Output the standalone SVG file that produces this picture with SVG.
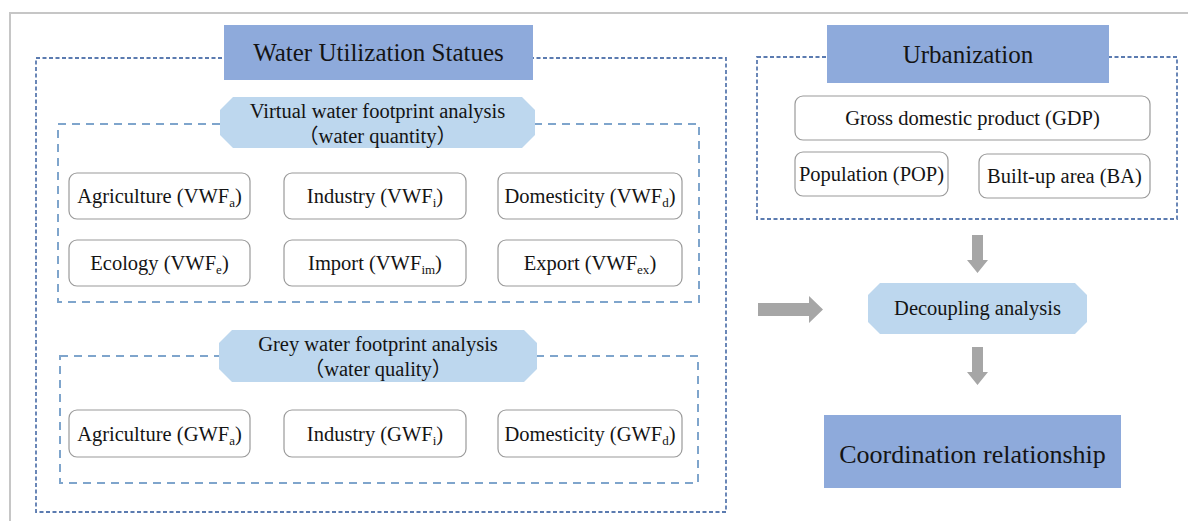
<svg xmlns="http://www.w3.org/2000/svg" width="1188" height="521" viewBox="0 0 1188 521">
<style>
text{fill:#141414;text-anchor:middle}
.t{font-size:20.5px}
.big{font-size:25px}
.huge{font-size:26px}
.title{fill:#8eaadb}
.oct{fill:#bdd7ee}
.box{fill:#fff;stroke:#9a9a9a;stroke-width:1.2}
.outer{fill:none;stroke:#5b7bb0;stroke-width:1.8;stroke-dasharray:4 2.5}
.inner{fill:none;stroke:#7fa5cc;stroke-width:2;stroke-dasharray:8 6}
.arrow{fill:#a6a6a6}
.sub{font-size:13px}
</style>
<rect width="1188" height="521" fill="#fff"/>
<path d="M10 521 V13 H1188" fill="none" stroke="#c6c6c6" stroke-width="2"/>

<g id="water-utilization">
<rect class="outer" x="36" y="58" width="690" height="454"/>
<rect class="inner" x="58" y="124" width="641" height="178"/>
<rect class="inner" x="60" y="356" width="638" height="127"/>
<rect class="title" x="224" y="25" width="309" height="55"/>
<text class="big" style="font-family:'Liberation Serif',serif" x="378.5" y="61">Water Utilization Statues</text>
</g>

<g id="virtual-analysis">
<polygon class="oct" points="233,97 522,97 535,110 535,135 522,148 233,148 220,135 220,110"/>
<text class="t" style="font-family:'Liberation Serif',serif" x="377.5" y="118">Virtual water footprint analysis</text>
<text class="t" style="font-family:'Liberation Serif','Noto Sans CJK SC',serif" x="377.5" y="143">（water quantity）</text>
</g>

<g id="vwf-agriculture"><rect class="box" x="69" y="173" width="181" height="46" rx="8"/><text class="t" style="font-family:'Liberation Serif',serif" x="159.5" y="203">Agriculture (VWF<tspan class="sub" dy="4">a</tspan><tspan dy="-4">)</tspan></text></g>
<g id="vwf-industry"><rect class="box" x="284" y="173" width="182" height="46" rx="8"/><text class="t" style="font-family:'Liberation Serif',serif" x="375" y="203">Industry (VWF<tspan class="sub" dy="4">i</tspan><tspan dy="-4">)</tspan></text></g>
<g id="vwf-domesticity"><rect class="box" x="498" y="173" width="184" height="46" rx="8"/><text class="t" style="font-family:'Liberation Serif',serif" x="590" y="203">Domesticity (VWF<tspan class="sub" dy="4">d</tspan><tspan dy="-4">)</tspan></text></g>
<g id="vwf-ecology"><rect class="box" x="69" y="240" width="181" height="46" rx="8"/><text class="t" style="font-family:'Liberation Serif',serif" x="159.5" y="270">Ecology (VWF<tspan class="sub" dy="4">e</tspan><tspan dy="-4">)</tspan></text></g>
<g id="vwf-import"><rect class="box" x="284" y="240" width="182" height="46" rx="8"/><text class="t" style="font-family:'Liberation Serif',serif" x="375" y="270">Import (VWF<tspan class="sub" dy="4">im</tspan><tspan dy="-4">)</tspan></text></g>
<g id="vwf-export"><rect class="box" x="498" y="240" width="184" height="46" rx="8"/><text class="t" style="font-family:'Liberation Serif',serif" x="590" y="270">Export (VWF<tspan class="sub" dy="4">ex</tspan><tspan dy="-4">)</tspan></text></g>

<g id="grey-analysis">
<polygon class="oct" points="232,330 524,330 537,343 537,369 524,382 232,382 219,369 219,343"/>
<text class="t" style="font-family:'Liberation Serif',serif" x="378" y="351">Grey water footprint analysis</text>
<text class="t" style="font-family:'Liberation Serif','Noto Sans CJK SC',serif" x="378" y="376">（water quality）</text>
</g>

<g id="gwf-agriculture"><rect class="box" x="69" y="410" width="181" height="47" rx="8"/><text class="t" style="font-family:'Liberation Serif',serif" x="159.5" y="441">Agriculture (GWF<tspan class="sub" dy="4">a</tspan><tspan dy="-4">)</tspan></text></g>
<g id="gwf-industry"><rect class="box" x="284" y="410" width="182" height="47" rx="8"/><text class="t" style="font-family:'Liberation Serif',serif" x="375" y="441">Industry (GWF<tspan class="sub" dy="4">i</tspan><tspan dy="-4">)</tspan></text></g>
<g id="gwf-domesticity"><rect class="box" x="498" y="410" width="184" height="47" rx="8"/><text class="t" style="font-family:'Liberation Serif',serif" x="590" y="441">Domesticity (GWF<tspan class="sub" dy="4">d</tspan><tspan dy="-4">)</tspan></text></g>

<g id="urbanization">
<rect class="outer" x="757" y="57" width="420" height="162"/>
<rect class="title" x="827" y="25" width="282" height="58"/>
<text class="big" style="font-family:'Liberation Serif',serif" x="968" y="63">Urbanization</text>
</g>
<g id="gdp"><rect class="box" x="795" y="96" width="355" height="44" rx="8"/><text class="t" style="font-family:'Liberation Serif',serif" x="972.5" y="125">Gross domestic product (GDP)</text></g>
<g id="pop"><rect class="box" x="795" y="152" width="153" height="44" rx="8"/><text class="t" style="font-family:'Liberation Serif',serif" x="871.5" y="181">Population (POP)</text></g>
<g id="ba"><rect class="box" x="979" y="154" width="171" height="44" rx="8"/><text class="t" style="font-family:'Liberation Serif',serif" x="1064.5" y="183">Built-up area (BA)</text></g>

<g id="decoupling">
<polygon class="oct" points="880,283 1075,283 1087,295 1087,322 1075,334 880,334 868,322 868,295"/>
<text class="t" style="font-family:'Liberation Serif',serif" x="977.5" y="315">Decoupling analysis</text>
</g>

<g id="coordination">
<rect class="title" x="824" y="415" width="297" height="73"/>
<text class="huge" style="font-family:'Liberation Serif',serif" x="972.5" y="463">Coordination relationship</text>
</g>

<g id="connectors">
<polygon class="arrow" points="758,303 809,303 809,296 823,309.5 809,323 809,316 758,316"/>
<polygon class="arrow" points="972,235 983,235 983,260 988,260 977.5,273 967,260 972,260"/>
<polygon class="arrow" points="972,347 983,347 983,372 988,372 977.5,385 967,372 972,372"/>
</g>
</svg>
